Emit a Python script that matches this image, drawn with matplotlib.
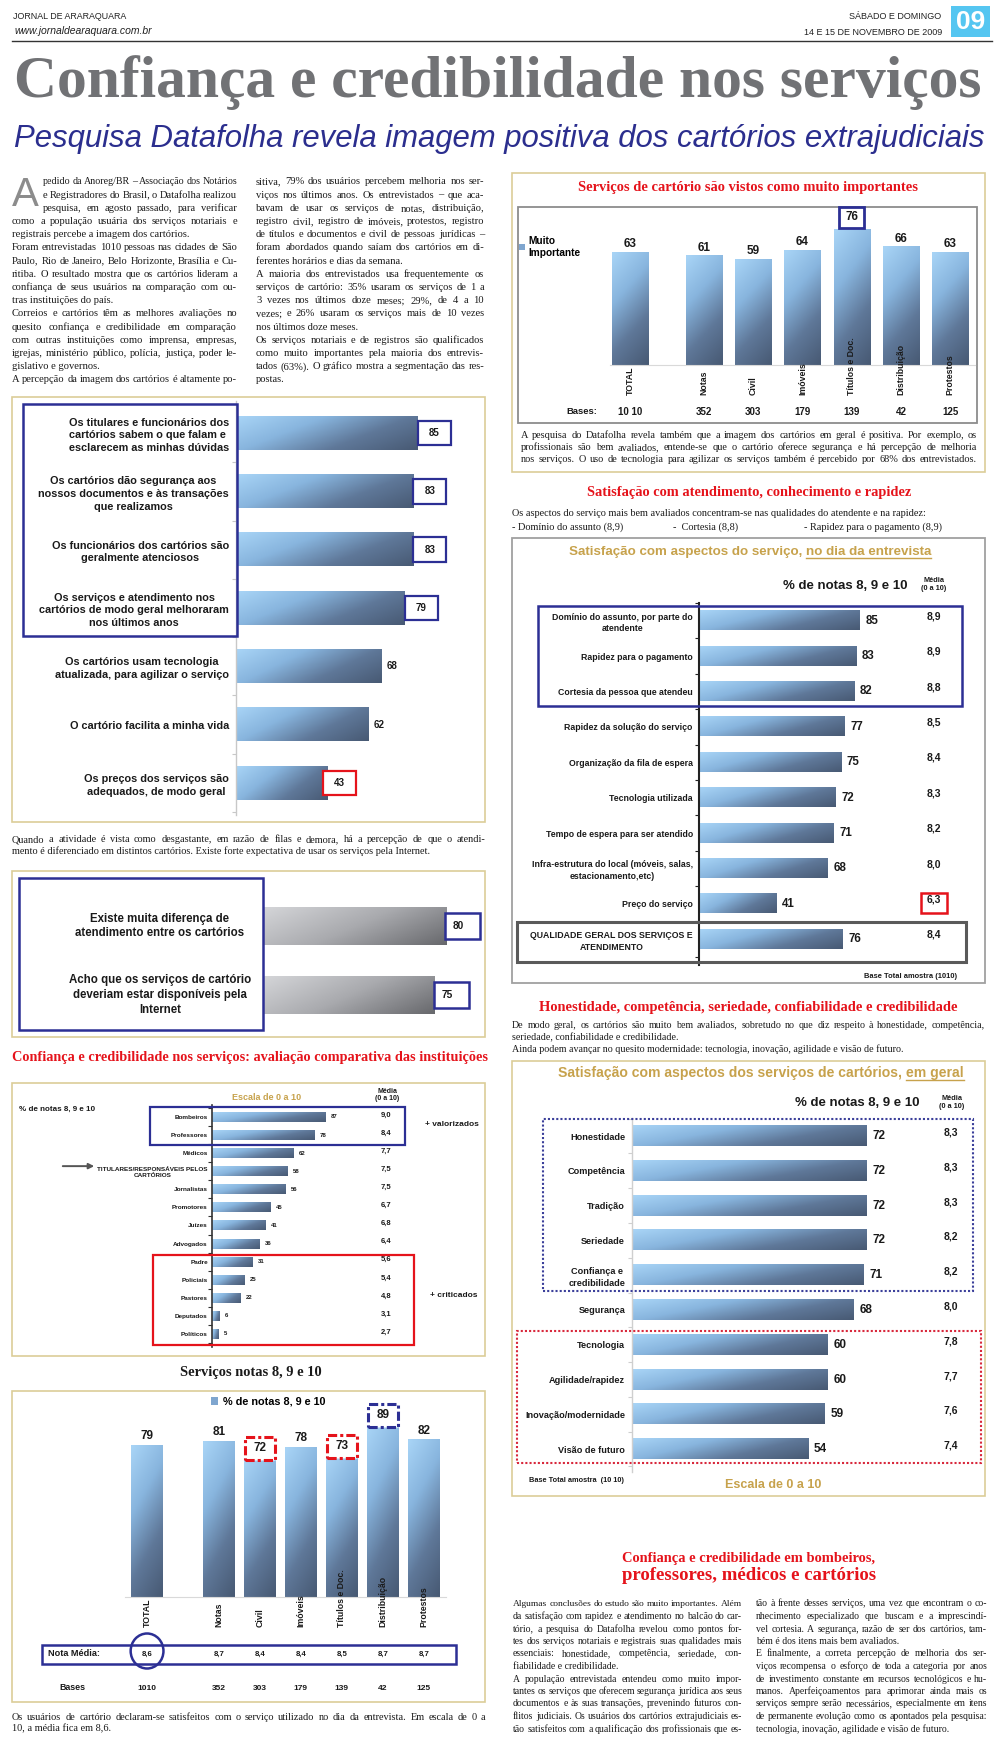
import numpy as np
import matplotlib
matplotlib.use('Agg')
import matplotlib.pyplot as plt
from matplotlib.patches import Rectangle, Ellipse, Patch
from matplotlib.colors import LinearSegmentedColormap
from matplotlib.font_manager import FontProperties
from matplotlib.transforms import blended_transform_factory

plt.rcParams['font.family'] = ['Liberation Sans', 'DejaVu Sans']

# ---------------- data ----------------
serv_cats = ['TOTAL', 'Notas', 'Civil', 'Imóveis', 'Títulos e Doc.', 'Distribuição', 'Protestos']
muito_imp = [63, 61, 59, 64, 76, 66, 63]
imp_bases = ['10 10', '352', '303', '179', '139', '42', '125']

notas_8_10 = [79, 81, 72, 78, 73, 89, 82]
nota_media = ['8,6', '8,7', '8,4', '8,4', '8,5', '8,7', '8,7']
notas_bases = ['1010', '352', '303', '179', '139', '42', '125']

perc_labels = ['Os titulares e funcionários dos\ncartórios sabem o que falam e\nesclarecem as minhas dúvidas',
               'Os cartórios dão segurança aos\nnossos documentos e às transações\nque realizamos',
               'Os funcionários dos cartórios são\ngeralmente atenciosos',
               'Os serviços e atendimento nos\ncartórios de modo geral melhoraram\nnos últimos anos',
               'Os cartórios usam tecnologia\natualizada, para agilizar o serviço',
               'O cartório facilita a minha vida',
               'Os preços dos serviços são\nadequados, de modo geral']
perc_vals = [85, 83, 83, 79, 68, 62, 43]

dif_labels = ['Existe muita diferença de\natendimento entre os cartórios',
              'Acho que os serviços de cartório\ndeveriam estar disponíveis pela\nInternet']
dif_vals = [80, 75]

inst_labels = ['Bombeiros', 'Professores', 'Médicos', 'TITULARES/RESPONSÁVEIS PELOS\nCARTÓRIOS',
               'Jornalistas', 'Promotores', 'Juízes', 'Advogados', 'Padre', 'Policiais',
               'Pastores', 'Deputados', 'Políticos']
inst_vals = [87, 78, 62, 58, 56, 45, 41, 36, 31, 25, 22, 6, 5]
inst_media = ['9,0', '8,4', '7,7', '7,5', '7,5', '6,7', '6,8', '6,4', '5,6', '5,4', '4,8', '3,1', '2,7']

dia_labels = ['Domínio do assunto, por parte do\natendente', 'Rapidez para o pagamento',
              'Cortesia da pessoa que atendeu', 'Rapidez da solução do serviço',
              'Organização da fila de espera', 'Tecnologia utilizada',
              'Tempo de espera para ser atendido',
              'Infra-estrutura do local (móveis, salas,\nestacionamento,etc)',
              'Preço do serviço', 'QUALIDADE GERAL DOS SERVIÇOS E\nATENDIMENTO']
dia_vals = [85, 83, 82, 77, 75, 72, 71, 68, 41, 76]
dia_media = ['8,9', '8,9', '8,8', '8,5', '8,4', '8,3', '8,2', '8,0', '6,3', '8,4']

geral_labels = ['Honestidade', 'Competência', 'Tradição', 'Seriedade', 'Confiança e\ncredibilidade',
                'Segurança', 'Tecnologia', 'Agilidade/rapidez', 'Inovação/modernidade', 'Visão de futuro']
geral_vals = [72, 72, 72, 72, 71, 68, 60, 60, 59, 54]
geral_media = ['8,3', '8,3', '8,3', '8,2', '8,2', '8,0', '7,8', '7,7', '7,6', '7,4']

# ---------------- texts ----------------
col1 = [["pedido da Anoreg/BR – Associação dos Notários",
         "e Registradores do Brasil, o Datafolha realizou",
         "pesquisa, em agosto passado, para verificar",
         "como a população usuária dos serviços notariais e",
         "registrais percebe a imagem dos cartórios."],
        ["Foram entrevistadas 1010 pessoas nas cidades de São",
         "Paulo, Rio de Janeiro, Belo Horizonte, Brasília e Cu-",
         "ritiba. O resultado mostra que os cartórios lideram a",
         "confiança de seus usuários na comparação com ou-",
         "tras instituições do país."],
        ["Correios e cartórios têm as melhores avaliações no",
         "quesito confiança e credibilidade em comparação",
         "com outras instituições como imprensa, empresas,",
         "igrejas, ministério público, polícia, justiça, poder le-",
         "gislativo e governos."],
        ["A percepção da imagem dos cartórios é altamente po-"]]
col2 = [["sitiva, 79% dos usuários percebem melhoria nos ser-",
         "viços nos últimos anos. Os entrevistados – que aca-",
         "bavam de usar os serviços de notas, distribuição,",
         "registro civil, registro de imóveis, protestos, registro",
         "de títulos e documentos e civil de pessoas jurídicas –",
         "foram abordados quando saíam dos cartórios em di-",
         "ferentes horários e dias da semana."],
        ["A maioria dos entrevistados usa frequentemente os",
         "serviços de cartório: 35% usaram os serviços de 1 a",
         "3 vezes nos últimos doze meses; 29%, de 4 a 10",
         "vezes; e 26% usaram os serviços mais de 10 vezes",
         "nos últimos doze meses."],
        ["Os serviços notariais e de registros são qualificados",
         "como muito importantes pela maioria dos entrevis-",
         "tados (63%). O gráfico mostra a segmentação das res-",
         "postas."]]
cap_a = [["A pesquisa do Datafolha revela também que a imagem dos cartórios em geral é positiva. Por exemplo, os",
          "profissionais são bem avaliados, entende-se que o cartório oferece segurança e há percepção de melhoria",
          "nos serviços. O uso de tecnologia para agilizar os serviços também é percebido por 68% dos entrevistados."]]
cap_quando = [["Quando a atividade é vista como desgastante, em razão de filas e demora, há a percepção de que o atendi-",
               "mento é diferenciado em distintos cartórios. Existe forte expectativa de usar os serviços pela Internet."]]
cap_f = [["Os usuários de cartório declaram-se satisfeitos com o serviço utilizado no dia da entrevista. Em escala de 0 a",
          "10, a média fica em 8,6."]]
txt_asp = "Os aspectos do serviço mais bem avaliados concentram-se nas qualidades do atendente e na rapidez:"
txt_asp_items = ['- Domínio do assunto (8,9)', '-  Cortesia (8,8)', '- Rapidez para o pagamento (8,9)']
txt_hon = [["De modo geral, os cartórios são muito bem avaliados, sobretudo no que diz respeito à honestidade, competência,",
            "seriedade, confiabilidade e credibilidade."],
           ["Ainda podem avançar no quesito modernidade: tecnologia, inovação, agilidade e visão de futuro."]]
colA = [["Algumas conclusões do estudo são muito importantes. Além",
         "da satisfação com rapidez e atendimento no balcão do car-",
         "tório, a pesquisa do Datafolha revelou como pontos for-",
         "tes dos serviços notariais e registrais suas qualidades mais",
         "essenciais: honestidade, competência, seriedade, con-",
         "fiabilidade e credibilidade."],
        ["A população entrevistada entendeu como muito impor-",
         "tantes os serviços que oferecem segurança jurídica aos seus",
         "documentos e às suas transações, prevenindo futuros con-",
         "flitos judiciais. Os usuários dos cartórios extrajudiciais es-",
         "tão satisfeitos com a qualificação dos profissionais que es-"]]
colB = [["tão à frente desses serviços, uma vez que encontram o co-",
         "nhecimento especializado que buscam e a imprescindí-",
         "vel cortesia. A segurança, razão de ser dos cartórios, tam-",
         "bém é dos itens mais bem avaliados."],
        ["E finalmente, a correta percepção de melhoria dos ser-",
         "viços recompensa o esforço de toda a categoria por anos",
         "de investimento constante em recursos tecnológicos e hu-",
         "manos. Aperfeiçoamentos para aprimorar ainda mais os",
         "serviços sempre serão necessários, especialmente em itens",
         "de permanente evolução como os apontados pela pesquisa:",
         "tecnologia, inovação, agilidade e visão de futuro."]]

RED = '#e5131b'
GOLD = '#c7a24c'
GOLDLINE = '#dccd98'
NAVY = '#2c2f94'
INK = '#1a1a1a'

W, H = 1000, 1739
fig = plt.figure(figsize=(W / 100, H / 100), dpi=100)
fig.patch.set_facecolor('white')


def full_ax(z):
    a = fig.add_axes([0, 0, 1, 1], zorder=z)
    a.set_xlim(0, W)
    a.set_ylim(H, 0)
    a.axis('off')
    a.patch.set_alpha(0)
    return a


page = full_ax(0)
top = full_ax(10)
renderer = fig.canvas.get_renderer()


def tw(s, prop):
    return renderer.get_text_width_height_descent(s, prop, ismath=False)[0]


def bl(ax):
    # x in page pixels, y in chart data
    return blended_transform_factory(page.transData, ax.transData)


def fit_text(s, x0, x1, ybase, color, family='Liberation Serif', weight='bold', style='normal'):
    # real text, font size chosen so the string spans x0..x1
    p = FontProperties(family=family, weight=weight, style=style, size=20)
    size = 20 * (x1 - x0) / tw(s, p)
    page.text(x0, ybase, s, family=family, fontweight=weight, fontstyle=style, fontsize=size,
              color=color, va='baseline', ha='left')


def body(paras, x0, x1, y, dy, size, cont=False, indent=None, family='Liberation Serif'):
    k = 0
    for pi, para in enumerate(paras):
        for li, line in enumerate(para):
            xa = indent[1] if indent and k < indent[0] else x0
            last = li == len(para) - 1 and not (cont and pi == len(paras) - 1)
            words = line.split()
            s = size
            while True:
                prop = FontProperties(family=family, size=s)
                ws = [tw(w, prop) for w in words]
                gap = (x1 - xa - sum(ws)) / max(len(words) - 1, 1)
                if gap >= 1.6 or s < 4:
                    break
                s -= 0.2
            if last or len(words) == 1:
                page.text(xa, y, line, fontproperties=prop, color=INK, va='baseline')
            else:
                xx = xa
                for w_, wd in zip(words, ws):
                    page.text(xx, y, w_, fontproperties=prop, color=INK, va='baseline')
                    xx += wd + gap
            y += dy
            k += 1


def frame(x0, y0, x1, y1, ec=GOLDLINE, lw=1.2):
    page.add_patch(Rectangle((x0, y0), x1 - x0, y1 - y0, fill=False, ec=ec, lw=lw))


def chart_ax(x0, y0, x1, y1):
    a = fig.add_axes([x0 / W, 1 - y1 / H, (x1 - x0) / W, (y1 - y0) / H], zorder=5)
    a.patch.set_alpha(0)
    for s in ['top', 'right']:
        a.spines[s].set_visible(False)
    return a


blue_cm = LinearSegmentedColormap.from_list('blu', ['#a8d4f6', '#88b5de', '#5f7899', '#485a74'])
gray_cm = LinearSegmentedColormap.from_list('gry', ['#d4d5d8', '#a9aaae', '#68696d'])


def shade(ax, bars, cmap, horiz=True):
    u = np.linspace(0, 1, 60)[None, :]
    v = np.linspace(0, 1, 30)[:, None]
    z = 0.75 * u + 0.35 * (1 - v) if horiz else 0.3 * u + 0.8 * (1 - v)
    z = z / z.max()
    for b in bars:
        x, y, w, h = b.get_x(), b.get_y(), b.get_width(), b.get_height()
        ax.imshow(z, extent=[x, x + w, y, y + h], origin='lower', cmap=cmap,
                  aspect='auto', interpolation='bilinear', zorder=2)
        b.set_facecolor('none')
        b.set_edgecolor('none')


def hbars(ax, labels, vals, height, fs, pad, xmax, ylim, spine_c, lw=1.0):
    n = len(vals)
    rows = np.arange(n)[::-1]
    bars = ax.barh(rows, vals, height=height)
    shade(ax, bars, blue_cm)
    ax.set_xlim(0, xmax)
    ax.set_ylim(*ylim)
    ax.set_yticks(rows, labels, fontsize=fs, fontweight='bold', color=INK)
    ax.tick_params(axis='y', length=0, pad=pad)
    ax.set_yticks(np.arange(n + 1) - 0.5, minor=True)
    ax.tick_params(axis='y', which='minor', length=3, color=spine_c, width=0.8)
    ax.set_xticks([])
    ax.spines['bottom'].set_visible(False)
    ax.spines['left'].set_color(spine_c)
    ax.spines['left'].set_linewidth(lw)
    for t in ax.get_yticklabels():
        t.set_multialignment('center')
        t.set_linespacing(1.35)
    return rows


def gold_title(xc, y, pre, ul, width):
    p10 = FontProperties(family='Liberation Sans', weight='bold', size=10)
    sp = tw('a a', p10) - tw('aa', p10)
    full = tw(pre, p10) + sp + tw(ul, p10)
    prop = FontProperties(family='Liberation Sans', weight='bold', size=10 * width / full)
    sp = tw('a a', prop) - tw('aa', prop)
    w1, w2 = tw(pre, prop), tw(ul, prop)
    x0 = xc - (w1 + sp + w2) / 2
    page.text(x0, y, pre, fontproperties=prop, color=GOLD, va='baseline')
    page.text(x0 + w1 + sp, y, ul, fontproperties=prop, color=GOLD, va='baseline')
    page.plot([x0 + w1 + sp, x0 + w1 + sp + w2], [y + 2.5, y + 2.5], color=GOLD, lw=1)


# ---------------- header ----------------
fit_text('JORNAL DE ARARAQUARA', 13, 127, 19, '#222', family='Liberation Sans', weight='normal')
fit_text('www.jornaldearaquara.com.br', 14, 152, 34, '#222', family='Liberation Sans',
         weight='normal', style='italic')
fit_text('SÁBADO E DOMINGO', 849, 942, 19, '#222', family='Liberation Sans', weight='normal')
fit_text('14 E 15 DE NOVEMBRO DE 2009', 804, 942, 35, '#222', family='Liberation Sans', weight='normal')
page.add_patch(Rectangle((951, 6), 39, 31, fc='#55c6f1', ec='none'))
page.text(970.5, 22, '09', ha='center', va='center', fontsize=19, fontweight='bold', color='white')
page.plot([12, 992], [41, 41], color='#333', lw=1)
fit_text('Confiança e credibilidade nos serviços', 14, 984, 97, '#717275')
fit_text('Pesquisa Datafolha revela imagem positiva dos cartórios extrajudiciais', 14, 984,
         147, '#2b2e8e', family='Liberation Sans', weight='normal', style='italic')

# ---------------- intro text ----------------
page.text(12, 206, 'A', fontsize=29, family='Liberation Sans', color='#8c8c8c', va='baseline')
body(col1, 12, 237, 184.5, 13.2, 7.6, cont=True, indent=(3, 43))
body(col2, 256, 484, 184.5, 13.2, 7.6)

# ---------------- chart A: muito importantes ----------------
frame(512, 173, 985, 472)
frame(518, 207, 977, 423, ec='#8c8c8c', lw=1.3)
fit_text('Serviços de cartório são vistos como muito importantes', 578, 918, 191, RED)
posA = np.r_[0, np.arange(1, 7) + 0.5]
axA = chart_ax(586, 207, 975, 365)
barsA = axA.bar(posA, muito_imp, width=0.74)
shade(axA, barsA, blue_cm, horiz=False)
axA.set_xlim(-0.89, 7.0)
axA.set_ylim(0, 88.3)
axA.set_xticks([])
axA.set_yticks([])
axA.spines['left'].set_visible(False)
axA.spines['bottom'].set_color('#d9d9d9')
axA.spines['bottom'].set_bounds(-0.4, 7.0)
tA = blended_transform_factory(axA.transData, axA.transAxes)
for i, (p, v, c, b) in enumerate(zip(posA, muito_imp, serv_cats, imp_bases)):
    if i == 4:
        axA.add_patch(Rectangle((p - 0.25, v + 0.6), 0.5, 11.8, fc='white', ec=NAVY, lw=2,
                                clip_on=False, zorder=4))
        axA.text(p, v + 6.5, str(v), ha='center', va='center', fontsize=8.5, fontweight='bold',
                 color=INK, zorder=5)
    else:
        axA.text(p, v + 4.5, str(v), ha='center', va='center', fontsize=8.5, fontweight='bold', color=INK)
    axA.text(p, -0.19, c, transform=tA, rotation=90, ha='center', va='bottom', fontsize=6.3,
             fontweight='bold', color=INK, zorder=5)
    axA.text(p, -0.297, b, transform=tA, ha='center', va='center', fontsize=7, fontweight='bold', color=INK)
page.text(597, 412, 'Bases:', ha='right', va='center', fontsize=6.8, fontweight='bold', color=INK)
axA.legend(handles=[Patch(fc='#7fa6cf')], labels=['Muito\nImportante'], loc='upper left',
           bbox_to_anchor=(519 / W, 1 - 236 / H), bbox_transform=fig.transFigure, frameon=False,
           prop=FontProperties(family='Liberation Sans', weight='bold', size=7.3),
           handlelength=0.6, handleheight=0.6, handletextpad=0.3, borderpad=0, borderaxespad=0)
body(cap_a, 521, 977, 438.5, 12, 7.4, cont=True)

# ---------------- chart B: satisfação no dia ----------------
fit_text('Satisfação com atendimento, conhecimento e rapidez', 587, 911, 496, RED)
page.text(512, 516.5, txt_asp, fontsize=7.4, family='Liberation Serif', color=INK, va='baseline')
for x, s in zip([512, 673, 804], txt_asp_items):
    page.text(x, 529.5, s, fontsize=7.4, family='Liberation Serif', color=INK, va='baseline')
frame(512, 538, 985, 983, ec='#a0a0a0', lw=1.3)
gold_title(750, 555, 'Satisfação com aspectos do serviço,', 'no dia da entrevista', 365)
page.text(845, 586, '% de notas 8, 9 e 10', ha='center', va='center', fontsize=9.5, fontweight='bold', color=INK)
page.text(934, 585, 'Média\n(0 a 10)', ha='center', va='center', fontsize=5.3, fontweight='bold',
          color=INK, linespacing=1.2)
axB = chart_ax(699, 603, 888.4, 965)
rowsB = hbars(axB, dia_labels, dia_vals, 0.54, 6.3, 4.5, 100, (-0.73, 9.49), '#222222', lw=1.5)
for i, (r, v, m) in enumerate(zip(rowsB, dia_vals, dia_media)):
    axB.text(v + 3, r, str(v), ha='left', va='center', fontsize=8.3, fontweight='bold', color=INK)
    axB.text(124, r + 0.12, m, ha='center', va='center', fontsize=7.5, fontweight='bold', color=INK)
axB.add_patch(Rectangle((124 - 6.9, rowsB[8] - 0.25), 13.8, 0.56, fill=False, ec=RED, lw=1.8, clip_on=False))
top.add_patch(Rectangle((538, rowsB[2] - 0.4), 424, 2.81, transform=bl(axB), fill=False, ec=NAVY, lw=1.8))
top.add_patch(Rectangle((517, rowsB[9] - 0.65), 449, 1.13, transform=bl(axB), fill=False, ec='#5a5a5a', lw=2.2))
page.text(911, 977, 'Base Total amostra (1010)', ha='center', va='center', fontsize=5.4, fontweight='bold', color=INK)

# ---------------- chart C: percepção ----------------
frame(12, 397, 485, 822)
axC = chart_ax(236, 401, 471, 815)
rowsC = hbars(axC, perc_labels, perc_vals, 0.57, 7.8, 5, 110, (-0.55, 6.55), '#c8c8c8')
axC.get_yticklabels()[0].set_multialignment('left')
for i, (r, v) in enumerate(zip(rowsC, perc_vals)):
    if i < 4 or i == 6:
        x0 = v if i < 4 else v - 2.5
        axC.add_patch(Rectangle((x0, r - 0.21), 15.5, 0.42, fc='white', ec=NAVY if i < 4 else RED,
                                lw=1.6, clip_on=False, zorder=4))
        axC.text(x0 + 7.75, r, str(v), ha='center', va='center', fontsize=7, fontweight='bold',
                 color=INK, zorder=5)
    else:
        axC.text(v + 2.5, r, str(v), ha='left', va='center', fontsize=7, fontweight='bold', color=INK)
top.add_patch(Rectangle((23, rowsC[3] - 0.48), 214, 3.98, transform=bl(axC), fill=False, ec=NAVY, lw=1.8))
body(cap_quando, 12, 485, 842.5, 12, 7.4)

# ---------------- chart D: diferença / internet ----------------
frame(12, 871, 485, 1037)
axD = chart_ax(263, 878, 480, 1030)
rowsD = np.arange(len(dif_vals))[::-1]
barsD = axD.barh(rowsD, dif_vals, height=0.55)
shade(axD, barsD, gray_cm)
axD.set_xlim(0, 94.8)
axD.set_ylim(-0.51, 1.70)
axD.axis('off')
for r, v, lab in zip(rowsD, dif_vals, dif_labels):
    top.text(160, r, lab, transform=bl(axD), ha='center', va='center', fontsize=8.3,
             fontweight='bold', linespacing=1.3, color=INK)
    axD.add_patch(Rectangle((v - 0.5, r - 0.19), 15.5, 0.38, fc='white', ec=NAVY, lw=1.8,
                            clip_on=False, zorder=4))
    axD.text(v + 5.5, r, str(v), ha='center', va='center', fontsize=7.3, fontweight='bold',
             color=INK, zorder=5)
top.add_patch(Rectangle((19, -0.51), 244, 2.21, transform=bl(axD), fill=False, ec=NAVY, lw=1.8))

# ---------------- chart E: instituições ----------------
fit_text('Confiança e credibilidade nos serviços: avaliação comparativa das instituições',
         12, 485, 1061, RED)
frame(12, 1083, 485, 1356)
axE = chart_ax(212, 1105, 343, 1347)
rowsE = hbars(axE, inst_labels, inst_vals, 0.55, 4.6, 3, 100, (-0.72, 12.66), '#333333', lw=1.2)
for r, v, m in zip(rowsE, inst_vals, inst_media):
    axE.text(v + 4, r, str(v), ha='left', va='center', fontsize=4.3, fontweight='bold', color=INK)
    axE.text(133, r + 0.1, m, ha='center', va='center', fontsize=5.5, fontweight='bold', color=INK)
top.add_patch(Rectangle((150, rowsE[1] - 0.55), 255, 2.1, transform=bl(axE), fill=False, ec=NAVY, lw=1.6))
top.add_patch(Rectangle((153, rowsE[12] - 0.61), 261, 5.0, transform=bl(axE), fill=False, ec=RED, lw=1.6))
top.annotate('', xy=(97, rowsE[3] + 0.28), xytext=(60, rowsE[3] + 0.28), xycoords=bl(axE),
             textcoords=bl(axE), arrowprops=dict(arrowstyle='-|>', color='#555', lw=1.4, mutation_scale=8))
top.text(425, rowsE[1] + 0.6, '+ valorizados', transform=bl(axE), ha='left', va='center',
         fontsize=6, fontweight='bold', color=INK)
top.text(430, rowsE[10] + 0.1, '+ criticados', transform=bl(axE), ha='left', va='center',
         fontsize=6, fontweight='bold', color=INK)
page.text(19, 1109, '% de notas 8, 9 e 10', ha='left', va='center', fontsize=5.8, fontweight='bold', color=INK)
page.text(267, 1097, 'Escala de 0 a 10', ha='center', va='center', fontsize=6.5, fontweight='bold', color=GOLD)
page.text(387, 1095, 'Média\n(0 a 10)', ha='center', va='center', fontsize=5, fontweight='bold',
          color=INK, linespacing=1.15)

# ---------------- chart F: notas 8, 9 e 10 ----------------
fit_text('Serviços notas 8, 9 e 10', 180, 322, 1376, INK)
frame(12, 1391, 485, 1702)
posF = np.r_[0, np.arange(1, 7) + 0.75]
axF = chart_ax(120, 1400, 450, 1597)
barsF = axF.bar(posF, notas_8_10, width=0.78)
shade(axF, barsF, blue_cm, horiz=False)
axF.set_xlim(-0.66, 7.39)
axF.set_ylim(0, 102.6)
axF.set_xticks([])
axF.set_yticks([])
axF.spines['left'].set_visible(False)
axF.spines['bottom'].set_color('#d9d9d9')
axF.spines['bottom'].set_bounds(-0.55, 7.3)
tF = blended_transform_factory(axF.transData, axF.transAxes)
tFp = blended_transform_factory(axF.transData, page.transData)
marks = {2: RED, 4: RED, 5: NAVY}
for i, (p, v, c, m, b) in enumerate(zip(posF, notas_8_10, serv_cats, nota_media, notas_bases)):
    if i in marks:
        axF.add_patch(Rectangle((p - 0.36, v - 0.5), 0.72, 12, fc='white', ec=marks[i], lw=2.2,
                                ls=(0, (3, 1, 1, 1)), clip_on=False, zorder=4))
        axF.text(p, v + 5.7, str(v), ha='center', va='center', fontsize=8.5, fontweight='bold',
                 color=INK, zorder=5)
    else:
        axF.text(p, v + 4.7, str(v), ha='center', va='center', fontsize=8.5, fontweight='bold', color=INK)
    axF.text(p, -0.152, c, transform=tF, rotation=90, ha='center', va='bottom', fontsize=6.3,
             fontweight='bold', color=INK, zorder=5)
    top.text(p, 1654, m, transform=tFp, ha='center', va='center', fontsize=5.6, fontweight='bold', color=INK)
    top.text(p, 1688, b, transform=tFp, ha='center', va='center', fontsize=6, fontweight='bold', color=INK)
top.add_patch(Ellipse((posF[0], 1651), 0.8, 35, transform=tFp, fill=False, ec=NAVY, lw=1.8))
page.add_patch(Rectangle((42, 1645), 414, 19, fill=False, ec=NAVY, lw=1.8))
page.text(48, 1654, 'Nota Média:', ha='left', va='center', fontsize=6.6, fontweight='bold', color=INK)
page.text(72, 1688, 'Bases', ha='center', va='center', fontsize=6.4, fontweight='bold', color=INK)
axF.legend(handles=[Patch(fc='#7fa6cf')], labels=['% de notas 8, 9 e 10'], loc='center',
           bbox_to_anchor=(268 / W, 1 - 1402 / H), bbox_transform=fig.transFigure, frameon=False,
           prop=FontProperties(family='Liberation Sans', weight='bold', size=7.8),
           handlelength=0.7, handleheight=0.7, handletextpad=0.4, borderpad=0)
body(cap_f, 12, 485, 1719.5, 12, 7.4)

# ---------------- chart G: em geral ----------------
fit_text('Honestidade, competência, seriedade, confiabilidade e credibilidade', 539, 958, 1011, RED)
body(txt_hon, 512, 985, 1027.5, 12.4, 7.2)
frame(512, 1061, 985, 1496)
gold_title(761, 1077, 'Satisfação com aspectos dos serviços de cartórios,', 'em geral', 407)
page.text(857, 1103, '% de notas 8, 9 e 10', ha='center', va='center', fontsize=9.5, fontweight='bold', color=INK)
page.text(952, 1102, 'Média\n(0 a 10)', ha='center', va='center', fontsize=5.3, fontweight='bold',
          color=INK, linespacing=1.2)
axG = chart_ax(632, 1118, 958, 1472)
rowsG = hbars(axG, geral_labels, geral_vals, 0.58, 6.6, 5, 100, (-0.66, 9.52), '#cfcfcf')
for r, v, m in zip(rowsG, geral_vals, geral_media):
    axG.text(v + 1.8, r, str(v), ha='left', va='center', fontsize=8.5, fontweight='bold', color=INK)
    axG.text(97.9, r + 0.1, m, ha='center', va='center', fontsize=7.5, fontweight='bold', color=INK)
top.add_patch(Rectangle((543, rowsG[4] - 0.46), 430, 4.95, transform=bl(axG), fill=False,
                        ec='#3b3f9a', lw=1.5, ls=(0, (1, 1))))
top.add_patch(Rectangle((517, rowsG[9] - 0.4), 464, 3.8, transform=bl(axG), fill=False,
                        ec='#d8283c', lw=1.5, ls=(0, (1, 1))))
page.text(529, 1481, 'Base Total amostra  (10 10)', ha='left', va='center', fontsize=5.3,
          fontweight='bold', color=INK)
page.text(773, 1485, 'Escala de 0 a 10', ha='center', va='center', fontsize=9, fontweight='bold', color=GOLD)

# ---------------- closing text ----------------
fit_text('Confiança e credibilidade em bombeiros,', 622, 876, 1562, RED)
fit_text('professores, médicos e cartórios', 622, 876, 1580, RED)
body(colA, 513, 742, 1606.5, 12.5, 7.0, cont=True)
body(colB, 756, 987, 1606.5, 12.5, 7.0)

fig.savefig('out.png', dpi=100, facecolor='white')
